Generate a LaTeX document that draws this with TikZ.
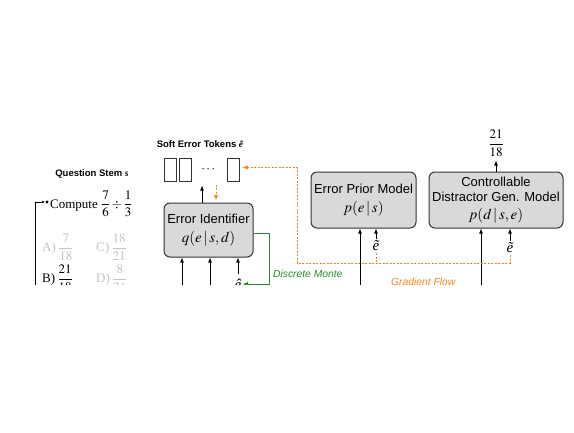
\documentclass[tikz,border=0pt]{standalone}
\usepackage{amsmath}
\usepackage{mathptmx}
\usepackage{fontspec}
\setmainfont{Liberation Serif}
\setsansfont{Liberation Sans}
\usetikzlibrary{arrows.meta}
\definecolor{boxgray}{HTML}{D9D9D9}
\definecolor{gradorange}{HTML}{F5841F}
\definecolor{mcgreen}{HTML}{2A8A2A}
\definecolor{optgray}{HTML}{C4C4C4}
\newcommand{\boxmath}[1]{{\fontsize{15}{17}\selectfont $#1$}}
\newcommand{\etil}{{\rmfamily\itshape ẽ}}
\newcommand{\ehatc}{{\rmfamily\itshape ê}}
\tikzset{
  model/.style={draw=black!80, fill=boxgray, rounded corners=6pt, line width=1pt,
    font=\sffamily\fontsize{13}{15.5}\selectfont, align=center, inner sep=0pt},
  token/.style={draw=black!80, line width=0.9pt, minimum width=12pt, minimum height=23pt, inner sep=0pt},
  flow/.style={-latex, line width=0.8pt},
  grad/.style={gradorange, dash pattern=on 2pt off 1.5pt, line width=0.9pt},
  heading/.style={font=\sffamily\bfseries\fontsize{9.5}{11}\selectfont},
  note/.style={font=\sffamily\itshape\fontsize{10.3}{12}\selectfont, inner sep=0pt},
  serifbig/.style={font=\fontsize{13}{15}\selectfont, inner sep=0pt},
  elabel/.style={font=\fontsize{15}{17}\selectfont, inner sep=0pt},
}
\begin{document}
\begin{tikzpicture}[x=1pt,y=-1pt]
\useasboundingbox (0,0) rectangle (574,432);
\begin{scope}
\clip (0,0) rectangle (574,284);
% question side
\node[heading] (stemlbl) at (92,174) {Question Stem {\rmfamily\itshape s}};
\node[serifbig, anchor=base west] (stem) at (50,208) {Compute $\dfrac{7}{6}\div\dfrac{1}{3}$};
\node[circle, fill, inner sep=1.1pt] (bullet) at (47,202) {};
\node[serifbig, optgray, anchor=west] (optA) at (42,247) {A)\,$\dfrac{7}{18}$};
\node[serifbig, optgray, anchor=west] (optC) at (96,247) {C)\,$\dfrac{18}{21}$};
\node[serifbig, anchor=west] (optB) at (42,278) {B)\,$\dfrac{21}{18}$};
\node[serifbig, optgray, anchor=west] (optD) at (96,278) {D)\,$\dfrac{8}{21}$};
\coordinate (qin) at (35,300);
\draw[-{Latex[length=3pt]}, line width=0.8pt] (qin) |- (bullet.west);

% error identifier and tokens
\node[model, minimum width=89pt, minimum height=54pt] (ei) at (208.5,230)
  {Error Identifier\\[3pt] \boxmath{q(e\,|\,s,d)}};
\node[heading] (toklbl) at (200,144) {Soft Error Tokens \etil};
\node[token] (t1) at (170.5,169.5) {};
\node[token] (t2) at (185,169.5) {};
\node[serifbig] (dots) at (209,170) {$\cdots$};
\node[token] (t3) at (233,169.5) {};
\draw[flow] ([xshift=-6.5pt]ei.north) -- ([xshift=-6.5pt,yshift=17pt]ei.north);
\draw[grad,-latex] ([xshift=7.5pt,yshift=18pt]ei.north) -- ([xshift=7.5pt,yshift=2pt]ei.north);
\coordinate (ein1) at (182,300);
\coordinate (ein2) at (210,300);
\draw[flow] (ein1) -- (ein1 |- ei.south);
\draw[flow] (ein2) -- (ein2 |- ei.south);
\node[elabel, inner sep=1pt] (ehat) at (238,284) {\ehatc};
\draw[flow] ([yshift=4pt]ehat.north) -- (ehat.north |- ei.south);
\draw[mcgreen, -latex, line width=0.9pt] ([yshift=-3pt]ei.east) -- ++(16,0) |- (ehat.east);
\node[note, mcgreen, anchor=west] (mclbl) at (273,274) {Discrete Monte};

% prior model
\node[model, minimum width=105pt, minimum height=56pt] (pm) at (363.5,200)
  {Error Prior Model\\[3pt] \boxmath{p(e\,|\,s)}};
\node[elabel] (etpm) at (376,246) {\etil};
\draw[flow] ([yshift=2pt]etpm.north) -- (etpm.north |- pm.south);
\coordinate (pmin) at (360,300);
\draw[flow] (pmin) -- (pmin |- pm.south);

% distractor generator
\node[model, minimum width=134pt, minimum height=56pt] (dg) at (496,200)
  {Controllable\\ Distractor Gen. Model\\[2pt] \boxmath{p(d\,|\,s,e)}};
\node[elabel] (etdg) at (510,248) {\etil};
\draw[flow] ([yshift=2pt]etdg.north) -- (etdg.north |- dg.south);
\coordinate (dgin) at (481,300);
\draw[flow] (dgin) -- (dgin |- dg.south);
\node[serifbig] (out) at (496,143) {$\dfrac{21}{18}$};
\draw[flow] (dg.north) -- ([yshift=-4pt]out.south);

% gradient path
\draw[grad,-latex] ([yshift=-2pt]etdg.south) |- (297,263) |- ([xshift=3pt,yshift=2pt]t3.east);
\draw[grad] ([yshift=-2pt]etpm.south) -- (etpm.south |- 0,263);
\node[note, gradorange, anchor=west] (gflbl) at (391,282) {Gradient Flow};
\end{scope}
\end{tikzpicture}
\end{document}
